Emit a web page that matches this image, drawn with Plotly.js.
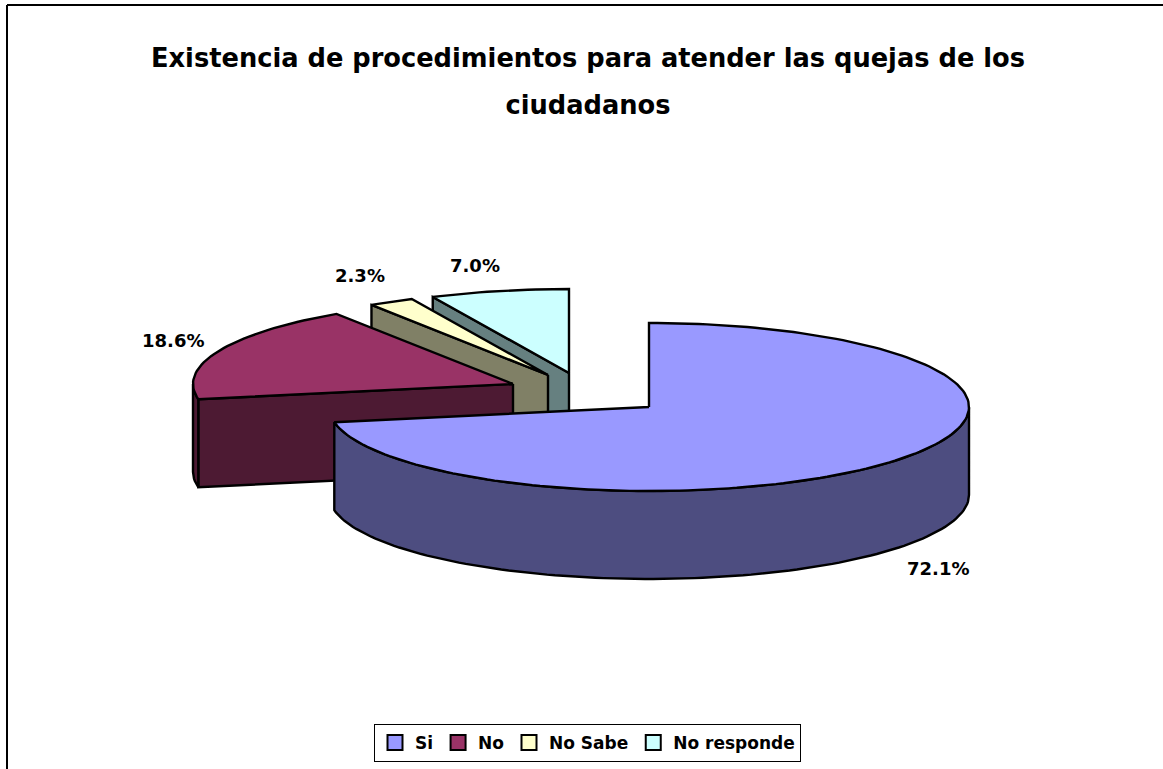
<!DOCTYPE html>
<html><head><meta charset="utf-8"><script src="https://cdn.plot.ly/plotly-3.0.1.min.js"></script>
<style>html,body{margin:0;padding:0;background:#fff}</style></head><body><div id="chart" style="width:1163px;height:769px"></div>
<script>
const categories = ["Si","No","No Sabe","No responde"];
const values = [72.1,18.6,2.3,7.0];
const topColors = ["#9999FF","#993366","#FFFFCC","#CCFFFF"];
const sideColors = ["#4D4D80","#4D1A33","#808066","#668080"];
const apexX = [649,513,548,569];
const apexY = [407,384,375,373];
const labelX = [938,173,359.5,475];
const labelY = [568,340,275,265];
const radiusX = 320, radiusY = 84, depth = 88;
const titleText = "Existencia de procedimientos para atender las quejas de los<br>ciudadanos";
const font = "'DejaVu Sans', sans-serif";

const total = values.reduce((a,b)=>a+b,0);
function rim(i,deg){const r=deg*Math.PI/180;return [apexX[i]+radiusX*Math.sin(r),apexY[i]-radiusY*Math.cos(r)];}
function poly(pts,color,cat){return {type:'scatter',mode:'lines',x:pts.map(p=>p[0]),y:pts.map(p=>p[1]),fill:'toself',fillcolor:color,
  line:{color:'#000',width:2.4,shape:'linear'},showlegend:false,hoverinfo:'text',text:cat,name:cat};}
function sweep(i,a,b){const out=[];const n=Math.max(2,Math.ceil((b-a)/1.5));for(let k=0;k<=n;k++)out.push(rim(i,a+(b-a)*k/n));return out;}

let start=0;const slices=values.map(v=>{const s={a:start,b:start+v/total*360};start=s.b;return s;});
const traces=[];
[3,2,1,0].forEach(i=>{
  const {a,b}=slices[i];const ax=apexX[i],ay=apexY[i];
  if(a>180){const e=rim(i,a);
    traces.push(poly([[ax,ay],e,[e[0],e[1]+depth],[ax,ay+depth],[ax,ay]],sideColors[i],categories[i]));}
  const lo=Math.max(a,90),hi=Math.min(b,270);
  if(hi>lo){const arc=sweep(i,lo,hi);const low=arc.slice().reverse().map(p=>[p[0],p[1]+depth]);
    traces.push(poly(arc.concat(low,[arc[0]]),sideColors[i],categories[i]));}
  traces.push(poly([[ax,ay]].concat(sweep(i,a,b),[[ax,ay]]),topColors[i],categories[i]));
});
categories.forEach((c,i)=>traces.push({type:'scatter',mode:'markers',x:[null],y:[null],name:c,showlegend:true,
  marker:{symbol:'square',size:15,color:topColors[i],line:{color:'#000',width:2}}}));

const layout={width:1163,height:769,margin:{l:0,r:0,t:0,b:0},paper_bgcolor:'#fff',plot_bgcolor:'#fff',
  title:{text:titleText.split('<br>').map(t=>'<span style="font-size:25.7px">'+t+'</span>').join('<br>'),
    font:{family:font,size:36,color:'#000',weight:'bold'},x:0.5056,xanchor:'center',y:0.913,yanchor:'middle'},
  xaxis:{range:[0,1163],visible:false,fixedrange:true},
  yaxis:{range:[769,0],visible:false,fixedrange:true},
  showlegend:true,
  legend:{orientation:'h',x:374/1163,xanchor:'left',y:1-724/769,yanchor:'top',bgcolor:'#fff',bordercolor:'#000',borderwidth:1,
    font:{family:font,size:17,color:'#000',weight:'bold'},traceorder:'normal'},
  shapes:[{type:'line',xref:'x',yref:'y',x0:7,x1:7,y0:5,y1:769,line:{color:'#000',width:2}},
          {type:'line',xref:'x',yref:'y',x0:7,x1:1163,y0:5,y1:5,line:{color:'#000',width:2}}],
  annotations:values.map((v,i)=>({xref:'x',yref:'y',x:labelX[i],y:labelY[i],text:v.toFixed(1)+'%',showarrow:false,
    font:{family:font,size:18,color:'#000',weight:'bold'}}))};
Plotly.newPlot('chart',traces,layout,{displayModeBar:false,staticPlot:true});
</script></body></html>
